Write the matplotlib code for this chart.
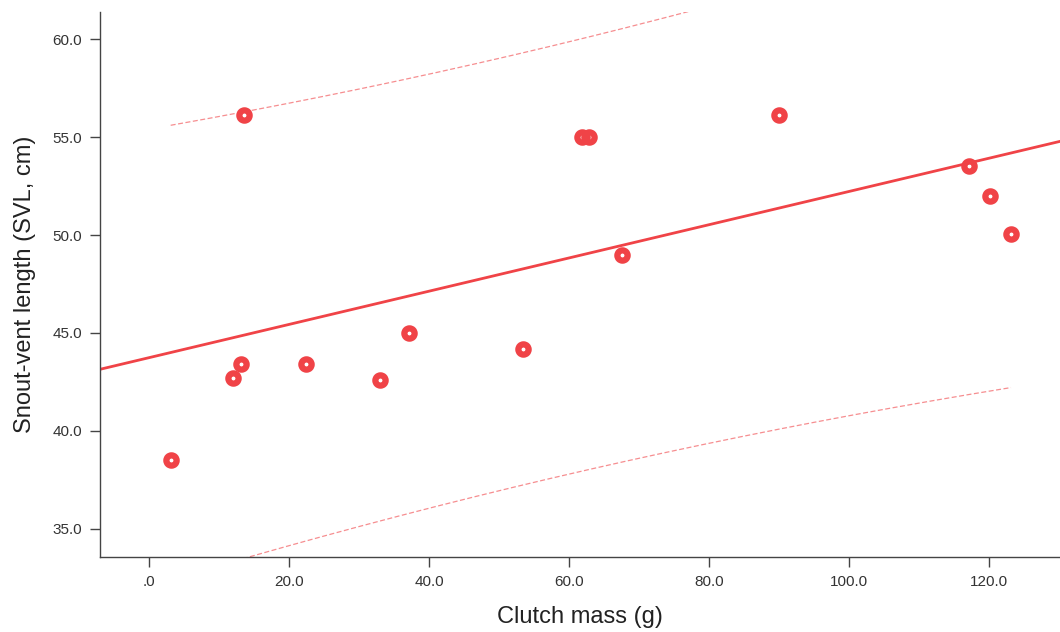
import numpy as np
import matplotlib
matplotlib.use("Agg")
import matplotlib.pyplot as plt

plt.rcParams['font.family'] = ['Liberation Sans', 'DejaVu Sans']

# clutch mass (g) and snout-vent length (cm)
clutch_mass = [3.1, 12.0, 13.1, 13.6, 22.4, 33.0, 37.1, 53.4, 61.8, 62.9,
               67.6, 90.0, 117.1, 120.1, 123.1]
svl = [38.5, 42.7, 43.4, 56.1, 43.4, 42.6, 45.0, 44.2, 55.0, 55.0,
       49.0, 56.1, 53.5, 52.0, 50.05]

xticks = [0, 20, 40, 60, 80, 100, 120]
xtick_labels = ['.0', '20.0', '40.0', '60.0', '80.0', '100.0', '120.0']
yticks = [35, 40, 45, 50, 55, 60]
ytick_labels = ['35.0', '40.0', '45.0', '50.0', '55.0', '60.0']

red = '#f04347'

x = np.array(clutch_mass)
y = np.array(svl)
n = len(x)
slope, intercept = np.polyfit(x, y, 1)
resid = y - (slope * x + intercept)
s = np.sqrt(np.sum(resid ** 2) / (n - 2))
sxx = np.sum((x - x.mean()) ** 2)
t = 2.160  # t(0.975, 13)

fig = plt.figure(figsize=(10.6, 6.32), dpi=100)
ax = fig.add_axes([0.0943, 0.1187, 0.9057, 0.8623])

xmin, xmax = -7, 130.1
ax.set_xlim(xmin, xmax)
ax.set_ylim(33.57, 61.38)

# regression line
xl = np.linspace(xmin, xmax, 10)
ax.plot(xl, slope * xl + intercept, color=red, lw=2.0, zorder=2)

# 95% prediction interval
xp = np.linspace(x.min(), x.max(), 200)
half = t * s * np.sqrt(1 + 1 / n + (xp - x.mean()) ** 2 / sxx)
yp = slope * xp + intercept
ax.plot(xp, yp + half, color=red, lw=0.9, ls=(0, (4, 2)), alpha=0.6, zorder=2)
ax.plot(xp, yp - half, color=red, lw=0.9, ls=(0, (4, 2)), alpha=0.6, zorder=2)

# points: thick red rings with a small hole
ax.plot(x, y, 'o', mfc='none', mec=red, ms=7.4, mew=4.5, ls='none', zorder=3)

ax.set_xticks(xticks)
ax.set_xticklabels(xtick_labels)
ax.set_yticks(yticks)
ax.set_yticklabels(ytick_labels)

for side in ['top', 'right']:
    ax.spines[side].set_visible(False)
for side in ['left', 'bottom']:
    ax.spines[side].set_color('#444444')
    ax.spines[side].set_linewidth(1.0)
ax.tick_params(direction='out', length=7, width=1, color='#444444',
               labelsize=11, labelcolor='#333333', pad=6)

ax.set_xlabel('Clutch mass (g)', fontsize=17, color='#222222', labelpad=12)
ax.set_ylabel('Snout-vent length (SVL, cm)', fontsize=17, color='#222222', labelpad=12)

fig.savefig('out.png', dpi=100)
